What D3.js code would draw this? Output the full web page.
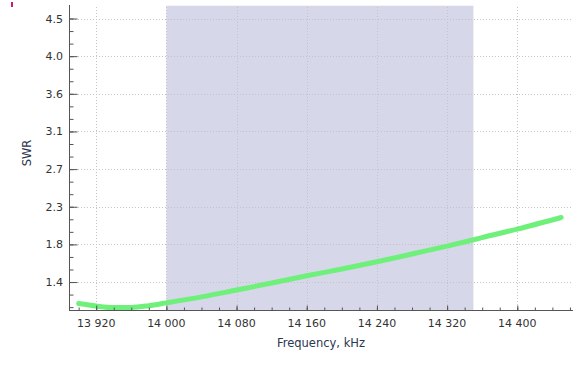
<!DOCTYPE html>
<html>
<head>
<meta charset="utf-8">
<script src="https://cdn.jsdelivr.net/npm/d3@7/dist/d3.min.js"></script>
<style>
  body { margin: 0; background: #fff; }
  svg { display: block; font-family: "DejaVu Sans", Verdana, sans-serif; }
</style>
</head>
<body>
<svg id="chart" width="584" height="371"></svg>
<script>
// SWR sweep, frequency in kHz
const freqs = [13900, 13920, 13940, 13960, 13980, 14000, 14040, 14080, 14120, 14160,
               14200, 14240, 14280, 14320, 14360, 14400, 14450];
const swr   = [1.117, 1.087, 1.069, 1.071, 1.092, 1.125, 1.195, 1.276, 1.358, 1.444,
               1.523, 1.608, 1.700, 1.793, 1.893, 1.993, 2.130];

// amateur band highlighted (kHz)
const band = [14000, 14350];

const xTicks = [13920, 14000, 14080, 14160, 14240, 14320, 14400];
// y major ticks are evenly spaced, labels rounded to one decimal
const yTickStart = 1.37;
const yTickStep = 0.443;
const yTicks = d3.range(8).map(i => yTickStart + i * yTickStep);

const svg = d3.select('#chart');
const plot = { left: 69, right: 573, top: 5, bottom: 310 };

const x = d3.scaleLinear().domain([13889, 14463.5]).range([plot.left, plot.right]);
const y = d3.scaleLinear().domain([1.041, 4.63]).range([plot.bottom, plot.top]);

// shaded band
svg.append('rect')
    .attr('x', x(band[0]))
    .attr('y', plot.top + 0.7)
    .attr('width', x(band[1]) - x(band[0]))
    .attr('height', plot.bottom - plot.top - 0.7)
    .attr('fill', '#d6d7e9');

// grid
const grid = svg.append('g')
    .attr('stroke', '#c4c4c8')
    .attr('stroke-width', 1)
    .attr('stroke-dasharray', '1,2');
grid.selectAll('.gy').data(yTicks).enter().append('line')
    .attr('x1', plot.left).attr('x2', plot.right)
    .attr('y1', d => Math.round(y(d)) + 0.5).attr('y2', d => Math.round(y(d)) + 0.5);
grid.selectAll('.gx').data(xTicks).enter().append('line')
    .attr('y1', plot.top + 2).attr('y2', plot.bottom)
    .attr('x1', d => Math.round(x(d)) + 0.5).attr('x2', d => Math.round(x(d)) + 0.5);

// curve
const line = d3.line()
    .x((d, i) => x(freqs[i]))
    .y(d => y(d))
    .curve(d3.curveMonotoneX);
svg.append('path')
    .datum(swr)
    .attr('d', line)
    .attr('fill', 'none')
    .attr('stroke', '#6ff07b')
    .attr('stroke-width', 5)
    .attr('stroke-linecap', 'round');

// y axis
const fmtY = d => d.toFixed(1);
const yAxis = svg.append('g')
    .attr('transform', `translate(${plot.left + 0.5},0)`)
    .call(d3.axisRight(y).tickValues(yTicks).tickSize(8).tickFormat(''));
yAxis.select('.domain').attr('d', `M0,${plot.top}V${plot.bottom}`);
svg.append('g')
    .attr('transform', `translate(${plot.left + 0.5},0)`)
    .call(d3.axisRight(y)
        .tickValues(d3.range(-2, 22).map(i => yTickStart + i * yTickStep / 3)
            .filter(v => v > 1.041 && v < 4.63))
        .tickSize(4).tickFormat(''))
    .select('.domain').remove();
svg.selectAll('.ylab').data(yTicks).enter().append('text')
    .attr('x', 63)
    .attr('y', d => y(d) + 4)
    .attr('text-anchor', 'end')
    .attr('font-size', 11)
    .attr('fill', '#333')
    .text(fmtY);

// x axis
const fmtX = d => d3.format(',')(d).replace(',', ' ');
const xAxis = svg.append('g')
    .attr('transform', `translate(0,${plot.bottom + 0.5})`)
    .call(d3.axisTop(x).tickValues(xTicks).tickSize(5).tickFormat(''));
xAxis.select('.domain').attr('d', `M${plot.left},0H${plot.right}`);
svg.append('g')
    .attr('transform', `translate(0,${plot.bottom + 0.5})`)
    .call(d3.axisTop(x).tickValues(d3.range(13900, 14461, 20)).tickSize(3).tickFormat(''))
    .select('.domain').remove();
svg.selectAll('.xlab').data(xTicks).enter().append('text')
    .attr('x', d => x(d))
    .attr('y', 327)
    .attr('text-anchor', 'middle')
    .attr('font-size', 11)
    .attr('fill', '#333')
    .text(fmtX);

svg.selectAll('.tick line, .domain').attr('stroke', '#555');

// axis titles
svg.append('text')
    .attr('x', (plot.left + plot.right) / 2)
    .attr('y', 347)
    .attr('text-anchor', 'middle')
    .attr('font-size', 11.5)
    .attr('fill', '#2b3650')
    .text('Frequency, kHz');
svg.append('text')
    .attr('transform', 'translate(31,153) rotate(-90)')
    .attr('text-anchor', 'middle')
    .attr('font-size', 11.5)
    .attr('fill', '#2b3650')
    .text('SWR');

// small marker in the corner
svg.append('rect').attr('x', 11).attr('y', 2).attr('width', 2).attr('height', 5).attr('fill', '#c0207a');
</script>
</body>
</html>
